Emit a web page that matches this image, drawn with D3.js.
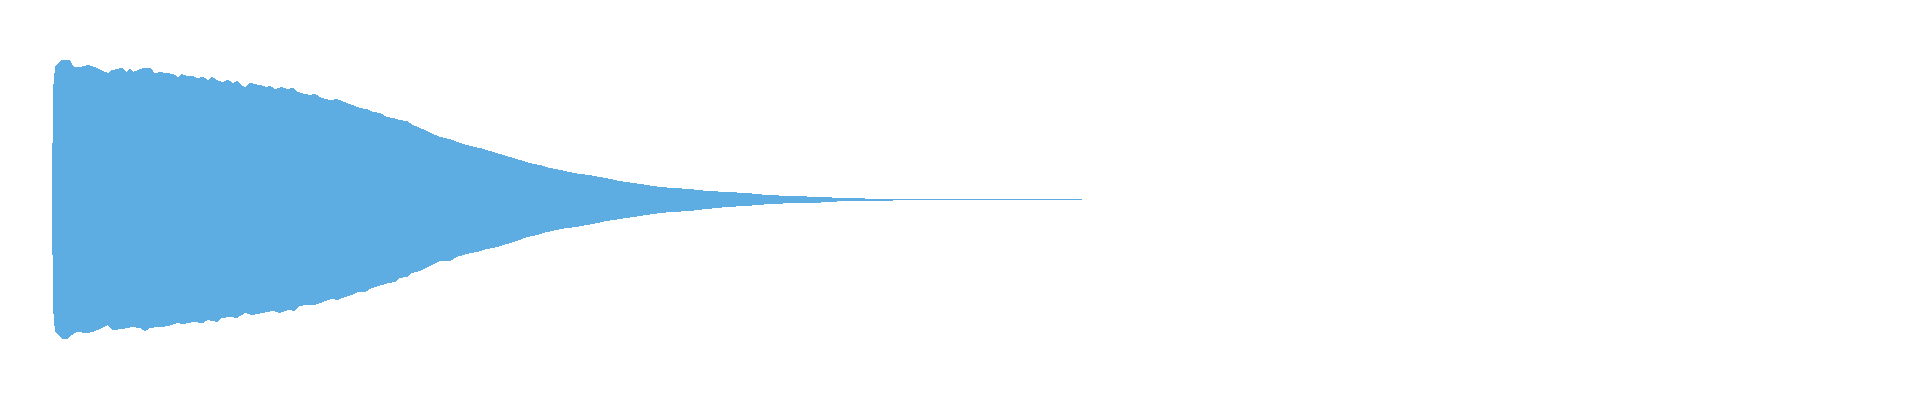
<!DOCTYPE html>
<html>
<head>
<meta charset="utf-8">
<script src="https://cdn.jsdelivr.net/npm/d3@7"></script>
<style>
  html, body { margin: 0; padding: 0; background: #fff; }
  #wave { width: 1920px; height: 400px; }
</style>
</head>
<body>
<div id="wave"></div>
<script>
// envelope of the waveform (block index -> peak amplitude)
const upperBlocks = [0, 1, 3, 6, 10, 18, 20, 23, 28, 36, 45, 51, 56, 60, 70, 75, 78, 81, 91, 98,
  103, 108, 115, 121, 126, 130, 135, 141, 145, 151, 156, 160, 165, 170, 176, 181, 185, 188, 193, 198,
  208, 215, 218, 223, 230, 235, 241, 246, 253, 258, 263, 270, 278, 285, 290, 295, 301, 308, 315, 321,
  328, 335, 341, 348, 355, 361, 368, 375, 381, 388, 398, 408, 418, 428, 438, 448, 458, 468, 478, 488,
  498, 508, 518, 528, 538, 548, 558, 568, 581, 595, 608, 621, 638, 655, 675, 695, 715, 741, 768, 796,
  853, 1030];
const upperPeaks = [0.0034, 0.730, 0.883, 0.910, 0.930, 0.930, 0.903, 0.883, 0.883, 0.897, 0.877, 0.857, 0.843, 0.863, 0.877, 0.850, 0.877, 0.850, 0.877, 0.877,
  0.843, 0.850, 0.843, 0.837, 0.817, 0.837, 0.823, 0.823, 0.810, 0.817, 0.797, 0.817, 0.797, 0.783, 0.797, 0.777, 0.790, 0.770, 0.750, 0.777,
  0.763, 0.750, 0.757, 0.737, 0.750, 0.737, 0.743, 0.717, 0.703, 0.697, 0.703, 0.677, 0.663, 0.670, 0.657, 0.643, 0.630, 0.610, 0.603, 0.583,
  0.577, 0.550, 0.543, 0.530, 0.523, 0.497, 0.477, 0.457, 0.437, 0.417, 0.403, 0.377, 0.357, 0.343, 0.323, 0.303, 0.283, 0.263, 0.243, 0.230,
  0.210, 0.197, 0.183, 0.170, 0.163, 0.150, 0.137, 0.123, 0.110, 0.097, 0.083, 0.077, 0.070, 0.057, 0.050, 0.043, 0.030, 0.023, 0.017, 0.008,
  0.0034, 0.0034];

const lowerBlocks = [0, 1, 3, 6, 10, 16, 20, 25, 35, 41, 50, 56, 61, 71, 80, 88, 93, 98, 105, 111,
  120, 125, 131, 141, 151, 156, 165, 170, 178, 185, 193, 200, 210, 221, 228, 236, 243, 248, 255, 263,
  271, 280, 286, 293, 300, 306, 313, 318, 323, 330, 336, 343, 348, 355, 360, 365, 370, 378, 388, 398,
  405, 415, 425, 435, 445, 455, 465, 475, 485, 495, 505, 515, 525, 535, 545, 555, 568, 581, 595, 608,
  621, 638, 655, 675, 695, 718, 745, 768, 775, 817, 906, 1030];
const lowerPeaks = [-0.0034, -0.723, -0.883, -0.903, -0.930, -0.930, -0.903, -0.883, -0.890, -0.883, -0.857, -0.837, -0.870, -0.863, -0.850, -0.857, -0.877, -0.857, -0.850, -0.850,
  -0.837, -0.823, -0.830, -0.817, -0.823, -0.803, -0.817, -0.790, -0.783, -0.790, -0.757, -0.770, -0.757, -0.743, -0.757, -0.737, -0.743, -0.710, -0.703, -0.703,
  -0.683, -0.663, -0.670, -0.650, -0.637, -0.617, -0.617, -0.597, -0.583, -0.570, -0.557, -0.550, -0.523, -0.517, -0.490, -0.483, -0.470, -0.443, -0.410, -0.410,
  -0.383, -0.363, -0.350, -0.330, -0.317, -0.297, -0.277, -0.250, -0.237, -0.217, -0.203, -0.190, -0.183, -0.170, -0.157, -0.143, -0.130, -0.117, -0.103, -0.090,
  -0.083, -0.077, -0.063, -0.050, -0.043, -0.030, -0.023, -0.021, -0.015, -0.008, -0.0034, -0.0034];

const totalBlocks = 1030;
const waveColor = '#5dade2';

const width = 1920, height = 400;
const margin = { left: 52, right: 838 };

const svg = d3.select('#wave').append('svg')
  .attr('width', width)
  .attr('height', height)
  .style('display', 'block');

const x = d3.scaleLinear()
  .domain([0, totalBlocks])
  .range([margin.left, width - margin.right]);

const y = d3.scaleLinear()
  .domain([-1, 1])
  .range([349.5, 49.5]);

const upper = upperBlocks.map((b, i) => ({ b, v: upperPeaks[i] }));
const lower = lowerBlocks.map((b, i) => ({ b, v: lowerPeaks[i] }));

// two halves, overlapping a little at the centre so no seam shows
const topArea = d3.area()
  .x(d => x(d.b))
  .y0(y(-0.003))
  .y1(d => y(d.v));

const bottomArea = d3.area()
  .x(d => x(d.b))
  .y0(y(0.003))
  .y1(d => y(d.v));

const g = svg.append('g').attr('class', 'waveform');

g.append('path')
  .datum(upper)
  .attr('d', topArea)
  .attr('fill', waveColor)
  .attr('shape-rendering', 'crispEdges');

g.append('path')
  .datum(lower)
  .attr('d', bottomArea)
  .attr('fill', waveColor)
  .attr('shape-rendering', 'crispEdges');
</script>
</body>
</html>
